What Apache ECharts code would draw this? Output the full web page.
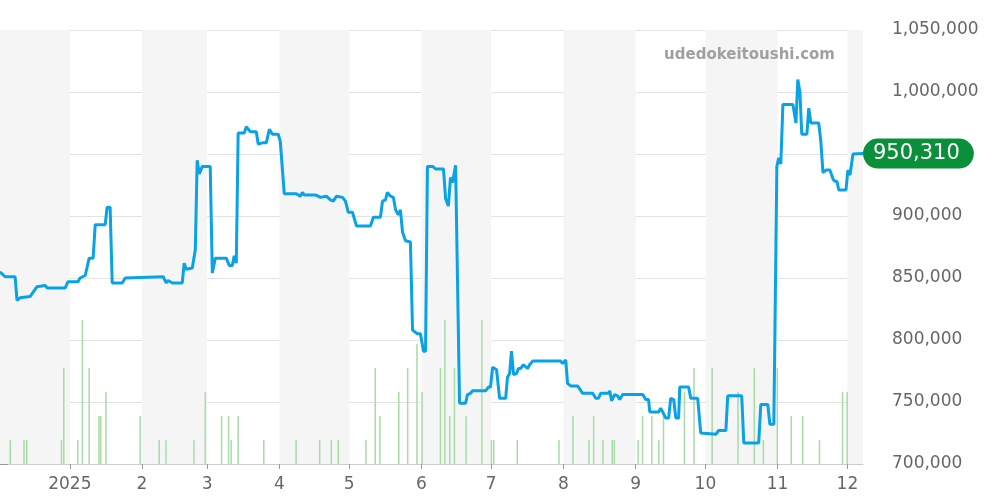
<!DOCTYPE html>
<html><head><meta charset="utf-8">
<script src="https://cdn.jsdelivr.net/npm/echarts@6/dist/echarts.min.js"></script>
<style>html,body{margin:0;padding:0;background:#fff}#c{width:1000px;height:500px}</style>
</head><body><div id="c"></div>
<script>
// day offsets from 2024-12-02 and price values
const priceDays = [0,2.2,6.5,7.3,8.6,12.9,15.9,19.4,20.2,28.0,29.2,33.5,34.4,36.6,37.4,38.3,40.0,40.9,45.2,46.0,47.3,48.2,52.5,53.8,70.1,71.4,72.2,74.0,78.3,79.1,80.0,82.6,83.9,84.7,85.6,86.9,90.3,91.2,92.5,97.2,98.5,99.8,100.6,101.5,102.3,104.9,105.8,106.6,107.5,110.1,110.9,112.7,114.4,115.7,117.0,119.5,120.4,122.1,127.3,129.0,129.9,130.7,135.5,137.6,140.2,141.9,143.2,144.5,147.1,148.4,149.6,151.4,153.1,159.1,160.4,163.4,164.3,165.6,166.4,167.7,169.0,169.9,170.7,171.1,172.0,172.9,174.2,176.3,177.2,179.3,180.6,181.9,182.8,183.6,185.8,187.1,190.5,191.4,192.6,193.5,194.4,195.7,196.5,197.4,200.0,200.8,202.1,203.0,208.6,209.8,210.7,211.6,213.3,214.6,217.2,218.0,218.9,219.7,220.6,221.9,222.7,223.6,224.9,226.6,227.5,228.8,240.8,241.7,243.0,243.8,245.1,248.1,250.3,254.6,255.9,257.1,258.0,261.4,261.9,262.7,264.0,265.3,266.2,267.5,276.1,277.4,278.6,279.1,282.9,283.8,286.0,287.2,288.1,289.4,290.3,291.5,292.0,295.8,296.7,299.7,301.0,307.5,308.7,311.8,312.6,318.6,319.5,325.9,326.8,329.8,330.7,332.4,333.7,334.5,335.4,336.3,340.6,341.9,342.7,343.6,344.4,346.6,347.4,348.3,351.7,352.6,353.5,354.8,356.5,357.8,358.6,359.5,360.3,363.4,364.2,365.1,366.4,370.7];
const priceValues = [855000,851000,851000,832000,834000,835000,843000,844000,842000,842000,847000,847000,850000,852000,851000,866000,866000,893000,893000,907000,907000,846000,846000,850000,851000,846000,848000,846000,846000,862000,857000,858000,873000,945000,934000,940000,940000,854000,866000,866000,860000,860000,868000,862000,967000,967000,972000,972000,968000,968000,958000,959000,959000,970000,966000,966000,960000,918000,918000,916000,919000,917000,917000,915000,916000,913000,912000,916000,915000,912000,903000,903000,892000,892000,899000,899000,912000,913000,919000,916000,915000,905000,905000,901000,905000,887000,880000,879000,808000,805000,805000,791000,791000,940000,940000,938000,938000,914000,908000,931000,927000,941000,941000,749000,749000,756000,757000,759000,759000,762000,762000,778000,776000,753000,753000,770000,773000,791000,772000,773000,777000,777000,780000,777000,780000,783000,783000,781000,784000,765000,763000,763000,757000,757000,753000,753000,757000,757000,759000,751000,756000,755000,752000,756000,756000,752000,752000,742000,742000,745000,737000,737000,753000,752000,737000,737000,762000,762000,753000,753000,725000,724000,727000,727000,755000,755000,717000,717000,748000,748000,732000,732000,940000,947000,942000,990000,990000,975000,1010000,1000000,966000,966000,987000,975000,975000,960000,935000,937000,937000,930000,928000,928000,921000,921000,937000,933000,950000,950310];
const volumeDays = [4.4,10.3,11.5,26.4,27.4,33.4,35.4,38.3,42.5,43.3,45.5,60.2,68.4,71.3,83.3,88.2,95.2,98.2,99.3,102.3,113.3,127.2,137.3,142.3,145.3,157.2,161.2,163.2,171.3,175.1,179.1,181.3,189.2,191.1,193.2,195.2,200.2,207.0,211.1,212.1,222.2,240.1,246.1,253.0,255.0,259.0,263.0,263.9,274.1,276.0,280.0,283.0,285.0,294.0,298.1,305.9,317.0,324.0,327.9,333.9,339.9,344.8,352.0,361.9,363.9];
const volumeValues = [1,1,1,1,4,1,6,4,2,2,3,2,1,1,1,3,2,2,1,2,1,1,1,1,1,1,4,2,3,4,5,3,4,6,2,4,2,6,1,1,1,1,2,1,2,1,1,1,1,2,2,1,2,3,4,4,3,4,1,4,2,2,1,3,3];
const yTicks = [700000,750000,800000,850000,900000,950000,1000000,1050000];
const shadedMonths = [['2024-12-02','2025-01-01'],['2025-02-01','2025-03-01'],['2025-04-01','2025-05-01'],['2025-06-01','2025-07-01'],['2025-08-01','2025-09-01'],['2025-10-01','2025-11-01'],['2025-12-01','2025-12-08']];
const monthTicks = ['2025-01-01','2025-02-01','2025-03-01','2025-04-01','2025-05-01','2025-06-01','2025-07-01','2025-08-01','2025-09-01','2025-10-01','2025-11-01','2025-12-01'];
const monthLabels = ['2025','2','3','4','5','6','7','8','9','10','11','12'];

const base = Date.UTC(2024,11,2);
const D = 86400000;
const dayOf = s => (new Date(s+'T00:00:00Z').getTime() - base) / D;
const tickDays = monthTicks.map(dayOf);
const chart = echarts.init(document.getElementById('c'));
chart.setOption({
  animation:false,
  title:{text:'udedokeitoushi.com',right:160,top:43,textStyle:{color:'#a0a0a0',fontSize:15,fontWeight:'bold',fontFamily:'DejaVu Sans'}},
  grid:{left:0,right:137,top:30,bottom:36},
  xAxis:{type:'value',min:0,max:370.7,
    axisLine:{lineStyle:{color:'#ccc'}},
    axisTick:{show:true,customValues:tickDays,length:5,lineStyle:{color:'#999'}},
    axisLabel:{customValues:tickDays,color:'#666',fontSize:17,fontFamily:'DejaVu Sans',margin:12,
      formatter:v=>{const i=tickDays.findIndex(t=>Math.abs(t-v)<0.01);return i>=0?monthLabels[i]:'';}},
    splitLine:{show:false}},
  yAxis:[{type:'value',position:'right',min:yTicks[0],max:yTicks[yTicks.length-1],interval:50000,
    axisLine:{show:true,lineStyle:{color:'#e6e6e6'}},axisTick:{show:true,length:8,lineStyle:{color:'#999'}},
    axisLabel:{color:'#666',fontSize:17,fontFamily:'DejaVu Sans',margin:29,padding:[4,0,0,0],formatter:v=>v.toLocaleString('en-US')},
    splitLine:{lineStyle:{color:'#e2e2e2'}}},
    {type:'value',min:0,max:18.08,show:false,splitLine:{show:false}}],
  series:[
    {type:'bar',yAxisIndex:1,barWidth:1.5,data:volumeDays.map((d,i)=>[d,volumeValues[i]]),
     itemStyle:{color:'#a6dca6'},silent:true,
     markArea:{silent:true,itemStyle:{color:'#f5f5f5'},data:shadedMonths.map(p=>[{xAxis:dayOf(p[0])},{xAxis:dayOf(p[1])}])}},
    {type:'line',data:priceDays.map((d,i)=>[d,priceValues[i]]),showSymbol:false,
     lineStyle:{color:'#08a2e6',width:3},itemStyle:{color:'#08a2e6'},
     endLabel:{show:true,distance:0,formatter:p=>p.value[1].toLocaleString('en-US'),color:'#fff',fontSize:21,
       fontFamily:'DejaVu Sans',backgroundColor:'#0a8f3a',borderRadius:16,padding:[5,14,4,10]}}
  ]
});
</script></body></html>
